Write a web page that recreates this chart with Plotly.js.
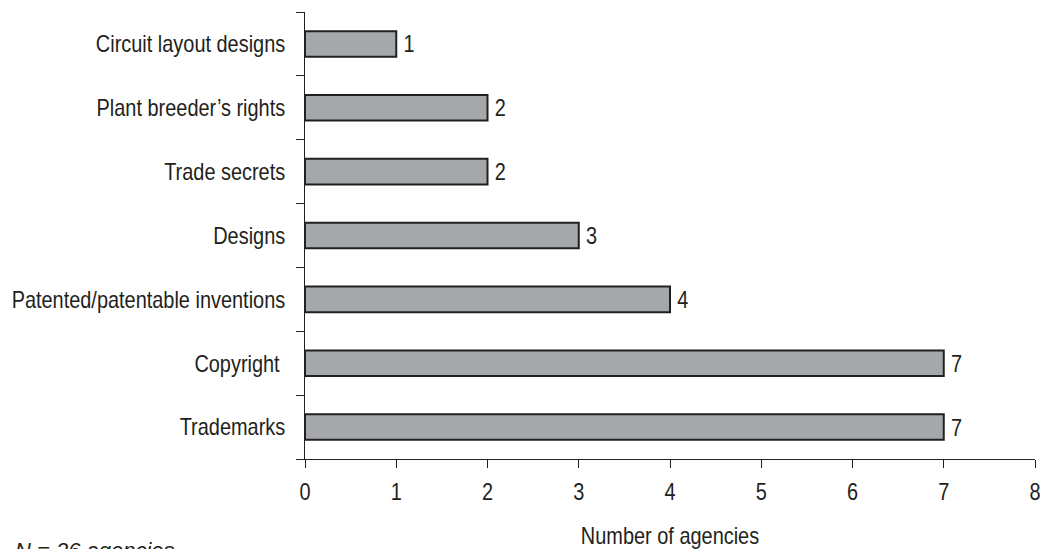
<!DOCTYPE html>
<html><head><meta charset="utf-8">
<script src="https://cdn.plot.ly/plotly-3.0.1.min.js"></script>
<style>html,body{margin:0;padding:0;background:#fff}#chart{width:1046px;height:549px}</style>
</head><body><div id="chart"></div>
<script>
const categories = ["Trademarks","Copyright ","Patented/patentable inventions","Designs","Trade secrets","Plant breeder\u2019s rights","Circuit layout designs"];
const values = [7,7,4,3,2,2,1];
const xTicks = [0,1,2,3,4,5,6,7,8];

const FONT = "'Liberation Sans Narrow','Arial Narrow','Liberation Sans',Arial,sans-serif";
const INK = "#231f20";
const FS = 24;
const SQUEEZE = 0.83;

const trace = {
  type: "bar", orientation: "h",
  y: categories, x: values,
  text: values.map(String), textposition: "outside", cliponaxis: false,
  constraintext: "none",
  textfont: {family: FONT, size: FS, color: INK},
  marker: {color: "#a5a8aa", line: {color: INK, width: 2}},
  width: 0.4, hoverinfo: "none"
};

const layout = {
  width: 1046, height: 549,
  margin: {l: 305, r: 11, t: 12, b: 90},
  paper_bgcolor: "#fff", plot_bgcolor: "#fff",
  showlegend: false,
  font: {family: FONT, size: FS, color: INK},
  xaxis: {
    range: [0, 8], tickvals: xTicks, ticktext: xTicks.map(String),
    showgrid: false, zeroline: false, showline: true, linecolor: INK, linewidth: 1,
    ticks: "outside", ticklen: 8, tickcolor: INK, tickwidth: 1,
    ticklabelstandoff: 3,
    tickfont: {family: FONT, size: FS, color: INK},
    title: {text: "Number of agencies", font: {family: FONT, size: FS, color: INK}, standoff: 27}
  },
  yaxis: {
    type: "category", categoryorder: "array", categoryarray: categories,
    range: [-0.5, 6.5],
    showgrid: false, zeroline: false, showline: true, linecolor: INK, linewidth: 1,
    ticks: "outside", ticklen: 8, tickcolor: INK, tickwidth: 1, tickson: "boundaries",
    ticklabelstandoff: 14,
    tickfont: {family: FONT, size: FS, color: INK}
  },
  annotations: [{
    xref: "paper", yref: "paper", x: (13 - 305) / 730, xanchor: "left",
    y: -0.172, yanchor: "top", showarrow: false,
    text: "<i>N = 26 agencies</i>",
    font: {family: "'Liberation Sans',Arial,sans-serif", size: 22, color: INK}
  }]
};

function squeeze(gd) {
  gd.querySelectorAll(".xtick text, .ytick text, .bartext, .xtitle").forEach(el => {
    const w = el.getComputedTextLength();
    if (w > 0) {
      el.setAttribute("textLength", (w * SQUEEZE).toFixed(2));
      el.setAttribute("lengthAdjust", "spacingAndGlyphs");
    }
    if (el.classList.contains("bartext")) el.setAttribute("dx", "3");
  });
}

Plotly.newPlot("chart", [trace], layout, {staticPlot: true, displayModeBar: false})
  .then(gd => squeeze(gd));
</script></body></html>
